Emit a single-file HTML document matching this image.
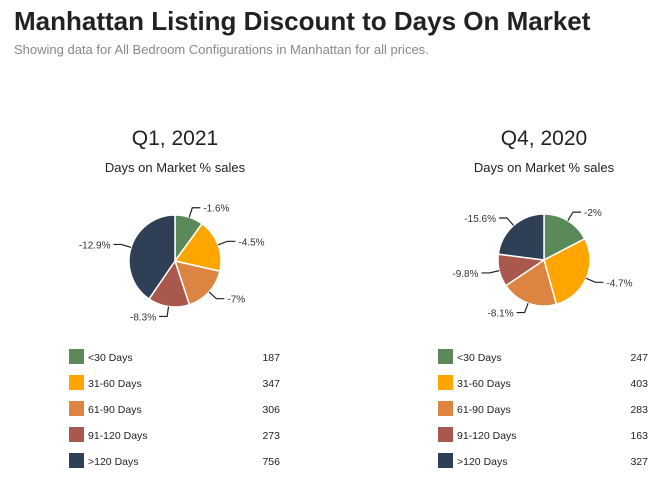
<!DOCTYPE html>
<html><head><meta charset="utf-8"><style>
body{margin:0;background:#fff;font-family:"Liberation Sans",sans-serif;}
</style></head><body>
<svg width="672" height="486" font-family="Liberation Sans, sans-serif">
<text x="14" y="30" font-size="26" font-weight="bold" fill="#222">Manhattan Listing Discount to Days On Market</text>
<text x="14" y="54" font-size="13" fill="#888">Showing data for All Bedroom Configurations in Manhattan for all prices.</text>
<g id="charts"></g>
</svg>
<script>
const categories=["<30 Days","31-60 Days","61-90 Days","91-120 Days",">120 Days"];
const colors=["#5b8a5a","#ffa500","#dc8543","#a9584e","#2e3f56"];
const periods=["Q1, 2021","Q4, 2020"];
const counts1=[187,347,306,273,756];
const counts2=[247,403,283,163,327];
const discounts1=["-1.6%","-4.5%","-7%","-8.3%","-12.9%"];
const discounts2=["-2%","-4.7%","-8.1%","-9.8%","-15.6%"];
const NS="http://www.w3.org/2000/svg";
const root=document.getElementById('charts');
function mk(tag,attrs,parent){const e=document.createElementNS(NS,tag);for(const k in attrs)e.setAttribute(k,attrs[k]);parent.appendChild(e);return e;}
function draw(cx,cy,r,title,counts,labels,legX,cntX,idx){
  const g=mk('g',{},root);
  
  
  const t=mk('text',{x:cx,y:145,'text-anchor':'middle','font-size':21,fill:'#222'},g);t.textContent=title;
  
  
  const s=mk('text',{x:cx,y:172,'text-anchor':'middle','font-size':13,fill:'#222'},g);s.textContent="Days on Market % sales";
  
  
  const tot=counts.reduce((a,b)=>a+b,0);let a0=0;
  counts.forEach((v,i)=>{
    const a1=a0+v/tot*2*Math.PI;
    const p=(a)=>[cx+r*Math.sin(a),cy-r*Math.cos(a)];
    const [x0,y0]=p(a0),[x1,y1]=p(a1);
    const path=mk('path',{d:`M${cx},${cy}L${x0},${y0}A${r},${r} 0 ${a1-a0>Math.PI?1:0} 1 ${x1},${y1}Z`,fill:colors[i],stroke:'#fff','stroke-width':1.5},g);
    
    
    const am=(a0+a1)/2,sx=Math.sin(am),cy_=-Math.cos(am);
    const ex=cx+(r+10)*sx,ey=cy+(r+10)*cy_,dir=sx>=0?1:-1;
    const hx=ex+dir*8;
    const ln=mk('polyline',{points:`${cx+r*sx},${cy+r*cy_} ${ex},${ey} ${hx},${ey}`,fill:'none',stroke:'#222','stroke-width':1.2},g);
    
    
    const lt=mk('text',{x:hx+dir*3,y:ey+4,'text-anchor':dir>0?'start':'end','font-size':10,fill:'#333'},g);lt.textContent=labels[i];
    
    
    const ry=349+i*26;
    const sw=mk('rect',{x:legX,y:ry,width:15,height:15,fill:colors[i]},g);
    
    
    const nt=mk('text',{x:legX+19,y:ry+12,'font-size':10.5,fill:'#222'},g);nt.textContent=categories[i];
    
    
    const ct=mk('text',{x:cntX,y:ry+12,'text-anchor':'end','font-size':10.5,fill:'#222'},g);ct.textContent=v;
    
    
    a0=a1;
  });
}
draw(175,261,46,periods[0],counts1,discounts1,69,280,1);
draw(544,260,46,periods[1],counts2,discounts2,438,648,2);
</script>
</body></html>
